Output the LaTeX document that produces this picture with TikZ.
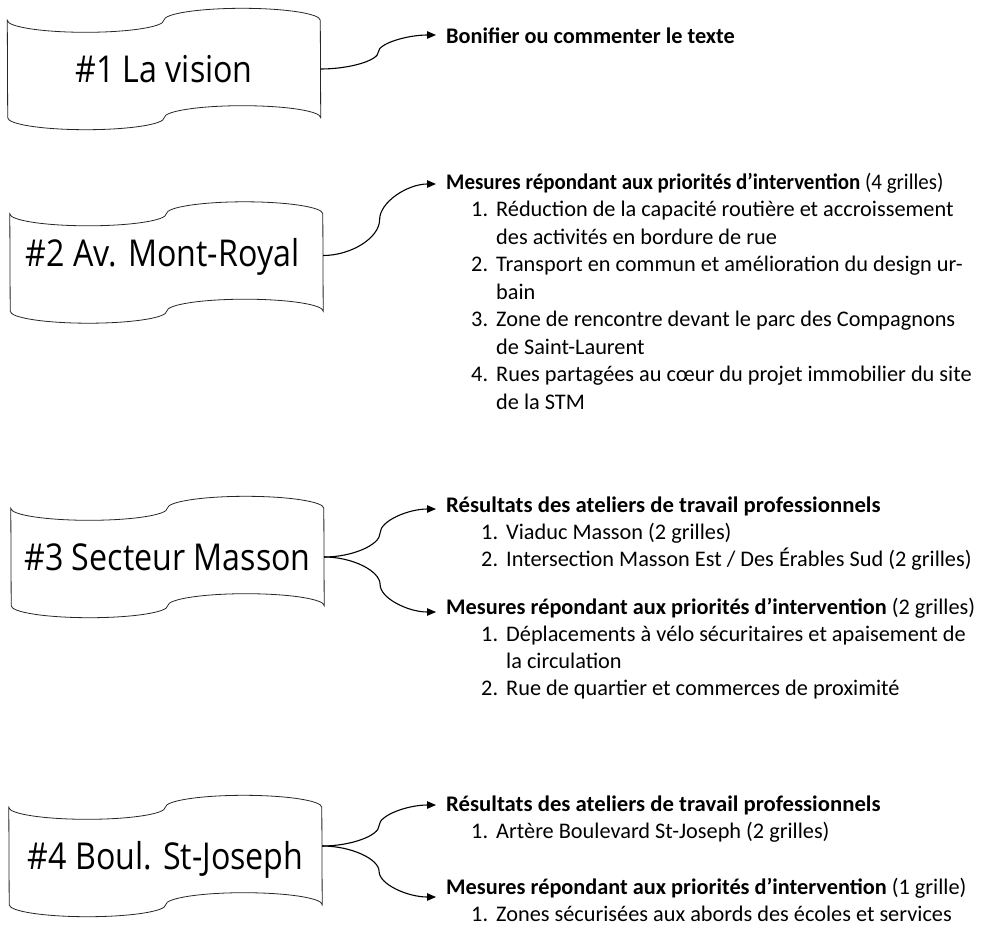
\documentclass[tikz,border=0pt]{standalone}
\usepackage{fontspec}
\usepackage{graphicx}
\setmainfont{Carlito}
\newfontfamily\boxfont[FakeStretch=0.87]{Open Sans}
\usetikzlibrary{arrows.meta,calc}
\newcommand\nb[1]{\makebox[25pt][l]{#1}}
\newcommand\tapeshape[1]{\draw[tapeline] (#1.north west)
  arc[start angle=180,end angle=360,x radius=78.25pt,y radius=12pt]
  arc[start angle=180,end angle=0,x radius=78.25pt,y radius=12pt]
  -- (#1.south east)
  arc[start angle=0,end angle=180,x radius=78.25pt,y radius=12pt]
  arc[start angle=0,end angle=-180,x radius=78.25pt,y radius=12pt]
  -- cycle;}
\tikzset{
  tapebox/.style={shape=rectangle,inner sep=0pt,minimum width=313pt,minimum height=97pt,
    text height=27pt,text depth=0pt,font=\boxfont\fontsize{37}{40}\selectfont},
  tapeline/.style={draw=black!85,line width=0.8pt},
  txt/.style={anchor=base west,inner sep=0pt,font=\fontsize{22.3}{27.5}\selectfont},
  conn/.style={line width=1.1pt,-{Triangle[length=9pt,width=7.5pt]},
    to path={let \p1=(\tikztostart), \p2=(\tikztotarget), \p3=($(\p1)!.5!(\p2)$) in
      .. controls ({(\x1+\x3)/2},\y1) and (\x3,{(\y1+\y3)/2}) .. (\p3)
      .. controls (\x3,{(\y3+\y2)/2}) and ({(\x3+\x2)/2},\y2) .. (\p2) \tikztonodes}},
}
\begin{document}
\begin{tikzpicture}[x=1pt,y=-1pt]
\useasboundingbox (0,0) rectangle (984,926);
\fill[white] (0,0) rectangle (984,926);

% boxes
\node[tapebox] (b1) at (164,69) {\#1 La vision};
\node[tapebox] (b2) at (166.5,262.5) {\raisebox{10pt}{\hspace*{-8pt}\#2 Av. Mont-Royal}};
\node[tapebox] (b3) at (167.5,557) {\#3 Secteur Masson};
\node[tapebox] (b4) at (165.5,856) {\#4 Boul. St-Joseph};
\tapeshape{b1}
\tapeshape{b2}
\tapeshape{b3}
\tapeshape{b4}

% section 1
\node[txt] (h1) at (446,43) {\textbf{Bonifier ou commenter le texte}};

% section 2
\node[txt] (h2) at (446,189) {\scalebox{0.94}[1]{\textbf{Mesures répondant aux priorités d’intervention} (4 grilles)}};
\node[txt] (i21a) at (471,216.5) {\nb{1.}Réduction de la capacité routière et accroissement};
\node[txt] (i21b) at (496,244) {des activités en bordure de rue};
\node[txt] (i22a) at (471,271.5) {\nb{2.}Transport en commun et amélioration du design ur-};
\node[txt] (i22b) at (496,299) {bain};
\node[txt] (i23a) at (471,326.5) {\nb{3.}Zone de rencontre devant le parc des Compagnons};
\node[txt] (i23b) at (496,354) {de Saint-Laurent};
\node[txt] (i24a) at (471,381.5) {\nb{4.}Rues partagées au cœur du projet immobilier du site};
\node[txt] (i24b) at (496,409) {de la STM};

% section 3
\node[txt] (h3a) at (446,512) {\scalebox{1.02}[1]{\textbf{Résultats des ateliers de travail professionnels}}};
\node[txt] (i31) at (481,539) {\nb{1.}Viaduc Masson (2 grilles)};
\node[txt] (i32) at (481,566) {\nb{2.}Intersection Masson Est / Des Érables Sud (2 grilles)};
\node[txt] (h3b) at (446,614) {\textbf{Mesures répondant aux priorités d’intervention} (2 grilles)};
\node[txt] (i33a) at (481,641) {\nb{1.}Déplacements à vélo sécuritaires et apaisement de};
\node[txt] (i33b) at (506,668) {la circulation};
\node[txt] (i34) at (481,695) {\nb{2.}Rue de quartier et commerces de proximité};

% section 4
\node[txt] (h4a) at (446,811) {\scalebox{1.02}[1]{\textbf{Résultats des ateliers de travail professionnels}}};
\node[txt] (i41) at (471,838) {\nb{1.}Artère Boulevard St-Joseph (2 grilles)};
\node[txt] (h4b) at (446,894) {\textbf{Mesures répondant aux priorités d’intervention} (1 grille)};
\node[txt] (i42) at (471,921) {\nb{1.}Zones sécurisées aux abords des écoles et services};

% connectors
\draw[conn] (b1.east) to ([xshift=-10pt,yshift=8pt]h1.base west);
\draw[conn] ([yshift=7pt]b2.east) to ([xshift=-10pt,yshift=5pt]h2.base west);
\draw[conn] (b3.east) to ([xshift=-10pt,yshift=3pt]h3a.base west);
\draw[conn] (b3.east) to ([xshift=-10pt,yshift=2pt]h3b.base west);
\draw[conn] ([yshift=10pt]b4.east) to ([xshift=-10pt,yshift=6pt]h4a.base west);
\draw[conn] ([yshift=10pt]b4.east) to ([xshift=-10pt,yshift=-3pt]h4b.base west);
\end{tikzpicture}
\end{document}
